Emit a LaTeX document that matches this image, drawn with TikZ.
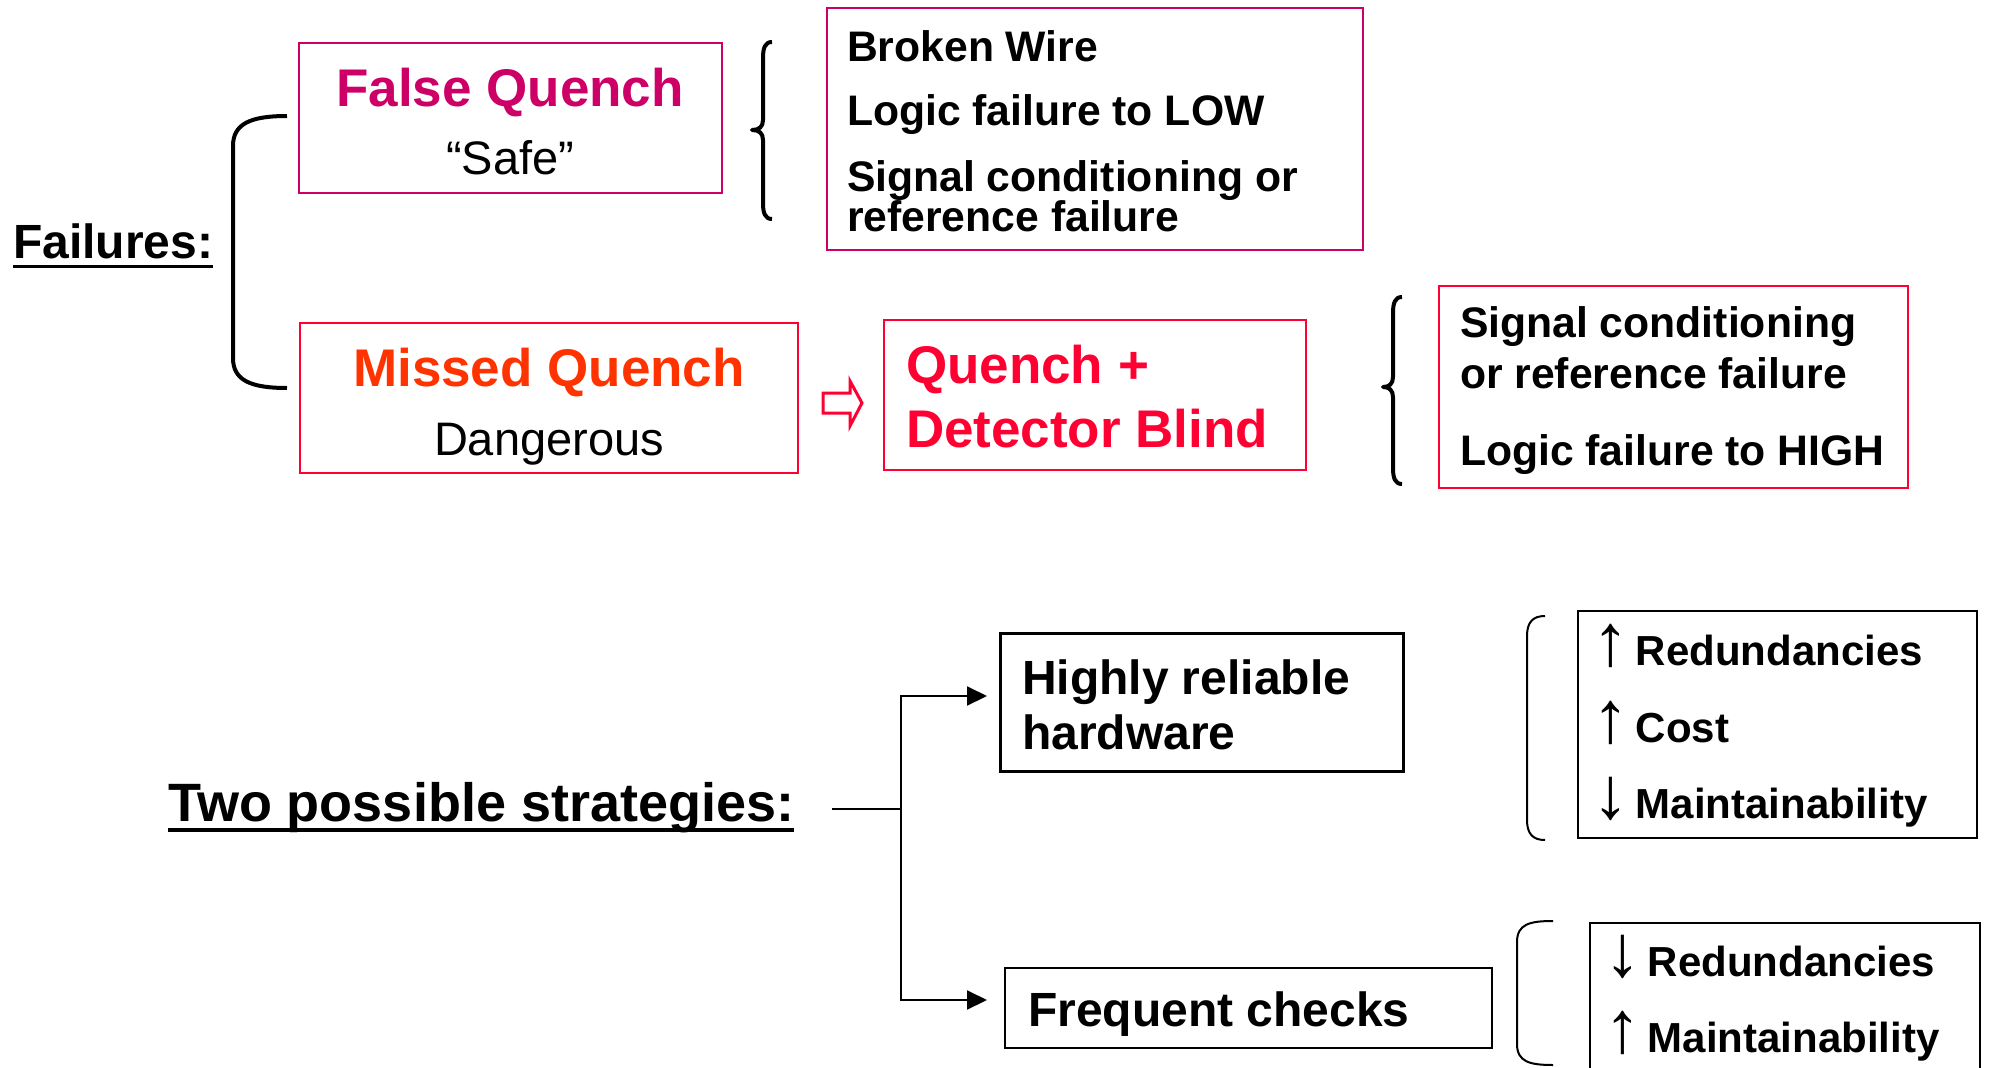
\documentclass[tikz,border=0pt]{standalone}
\usepackage{fontspec}
\usepackage{graphicx}
\setmainfont{Liberation Sans}
\usetikzlibrary{arrows.meta,calc}
\definecolor{qmagenta}{HTML}{CC0066}
\definecolor{qorange}{HTML}{FF3300}
\definecolor{qred}{HTML}{FF0033}
% thin tall arrow glyphs in front of the list items
\newcommand\upmark{\makebox[27pt][c]{\mdseries\scalebox{1.75}{↑}}}
\newcommand\downmark{\makebox[27pt][c]{\mdseries\scalebox{1.75}{↓}}}

\begin{document}
\begin{tikzpicture}[x=1pt,y=-1pt,
  boldtxt/.style={inner sep=0pt, outer sep=0pt, font=\fontsize{#1}{#1}\selectfont\bfseries},
  plaintxt/.style={inner sep=0pt, outer sep=0pt, font=\fontsize{#1}{#1}\selectfont},
  frame/.style={draw, line width=2pt, inner sep=0pt, outer sep=0pt, anchor=north west},
  brace/.style={line width=4pt, line join=round},
  paren/.style={line width=2pt},
  link/.style={line width=2pt, line join=miter, -{Triangle[length=20pt,width=19pt]}}]
\useasboundingbox (0,0) rectangle (1992,1068);
\clip (0,0) rectangle (1992,1068);

% ---------- Failures ----------
\node[boldtxt=48pt, anchor=base west] (fail) at (13,258) {Failures:};
\draw[line width=3.5pt] ($(fail.base west)+(0,8.5)$) -- ($(fail.base east)+(0,8.5)$);

\draw[brace] (287,116) .. controls (250,116) and (233,124) .. (233,146) -- (233,358)
  .. controls (233,380) and (250,388) .. (287,388);

% False quench
\node[frame, draw=qmagenta, minimum width=423pt, minimum height=150pt] (fq) at (299,43) {};
\node[boldtxt=53pt, text=qmagenta, anchor=base] (fqt) at (510,106) {False Quench};
\node[plaintxt=47pt, anchor=base] (fqs) at (510,174) {“Safe”};

\draw[brace] (772,42) .. controls (765,42) and (763,48) .. (763,58) -- (763,120)
  .. controls (763,127) and (759,130) .. (752,130)
  .. controls (759,130) and (763,133) .. (763,140) -- (763,203)
  .. controls (763,213) and (765,219) .. (772,219);

\node[frame, draw=qmagenta, minimum width=536pt, minimum height=242pt] (bw) at (827,8) {};
\node[boldtxt=42.7pt, anchor=base west] (bw1) at (847,61) {Broken Wire};
\node[boldtxt=42.7pt, anchor=base west] (bw2) at (847,125) {Logic failure to LOW};
\node[boldtxt=42.7pt, anchor=base west] (bw3) at (847,191) {Signal conditioning or};
\node[boldtxt=42.7pt, anchor=base west] (bw4) at (847,231) {reference failure};

% Missed quench
\node[frame, draw=qred, minimum width=498pt, minimum height=150pt] (mq) at (300,323) {};
\node[boldtxt=53pt, text=qorange, anchor=base] (mqt) at (549,386) {Missed Quench};
\node[plaintxt=47pt, anchor=base] (mqd) at (549,455) {Dangerous};

% hollow arrow
\draw[qred, line width=3pt, line join=miter] (823,393) -- (850,393) -- (850,381) -- (862,403)
  -- (850,426) -- (850,413) -- (823,413) -- cycle;

\node[frame, draw=qred, minimum width=422pt, minimum height=150pt] (qd) at (884,320) {};
\node[boldtxt=53pt, text=qred, anchor=base west] (qd1) at (906,383) {Quench +};
\node[boldtxt=53pt, text=qred, anchor=base west] (qd2) at (906,447) {Detector Blind};

\draw[brace] (1402,297) .. controls (1395,297) and (1393,303) .. (1393,313) -- (1393,377)
  .. controls (1393,384) and (1389,387) .. (1383,387)
  .. controls (1389,387) and (1393,390) .. (1393,397) -- (1393,468)
  .. controls (1393,478) and (1395,484) .. (1402,484);

\node[frame, draw=qred, minimum width=469pt, minimum height=202pt] (sc) at (1439,286) {};
\node[boldtxt=42.7pt, anchor=base west] (sc1) at (1460,337) {Signal conditioning};
\node[boldtxt=42.7pt, anchor=base west] (sc2) at (1460,388) {or reference failure};
\node[boldtxt=42.7pt, anchor=base west] (sc3) at (1460,465) {Logic failure to HIGH};

% ---------- Strategies ----------
\node[boldtxt=54pt, anchor=base west] (tps) at (168,821) {Two possible strategies:};
\draw[line width=4.5pt] ($(tps.base west)+(0,9)$) -- ($(tps.base east)+(0,9)$);

\node[frame, line width=3pt, minimum width=403pt, minimum height=138pt] (hw) at (1000,633) {};
\node[boldtxt=48pt, anchor=base west] (hw1) at (1022,694) {Highly reliable};
\node[boldtxt=48pt, anchor=base west] (hw2) at (1022,749) {hardware};

\node[frame, minimum width=487pt, minimum height=80pt] (fc) at (1005,968) {};
\node[boldtxt=48pt, anchor=base west] (fc1) at (1028,1026) {Frequent checks};

\coordinate (stem) at (832,809);
\coordinate (split) at (901,809);
\draw[line width=2pt] (stem) -- (split);
\draw[link, shorten >=13pt] (split) |- ([yshift=6pt]hw.west);
\draw[link, shorten >=18pt] (split) |- ([yshift=8pt]fc.west);

\draw[paren] (1545,616) .. controls (1533,616) and (1527,622) .. (1527,636) -- (1527,820)
  .. controls (1527,834) and (1533,840) .. (1545,840);
\node[frame, minimum width=399pt, minimum height=227pt] (r1) at (1578,611) {};
\node[boldtxt=42pt, anchor=base west] (r1a) at (1597,665) {\upmark\ Redundancies};
\node[boldtxt=42pt, anchor=base west] (r1b) at (1597,742) {\upmark\ Cost};
\node[boldtxt=42pt, anchor=base west] (r1c) at (1597,818) {\downmark\ Maintainability};

\draw[paren] (1553,921) .. controls (1530,921) and (1517,924) .. (1517,942) -- (1517,1044)
  .. controls (1517,1062) and (1530,1065) .. (1553,1065);
\node[frame, minimum width=390pt, minimum height=200pt] (r2) at (1590,923) {};
\node[boldtxt=42pt, anchor=base west] (r2a) at (1609,976) {\downmark\ Redundancies};
\node[boldtxt=42pt, anchor=base west] (r2b) at (1609,1052) {\upmark\ Maintainability};
\end{tikzpicture}
\end{document}
